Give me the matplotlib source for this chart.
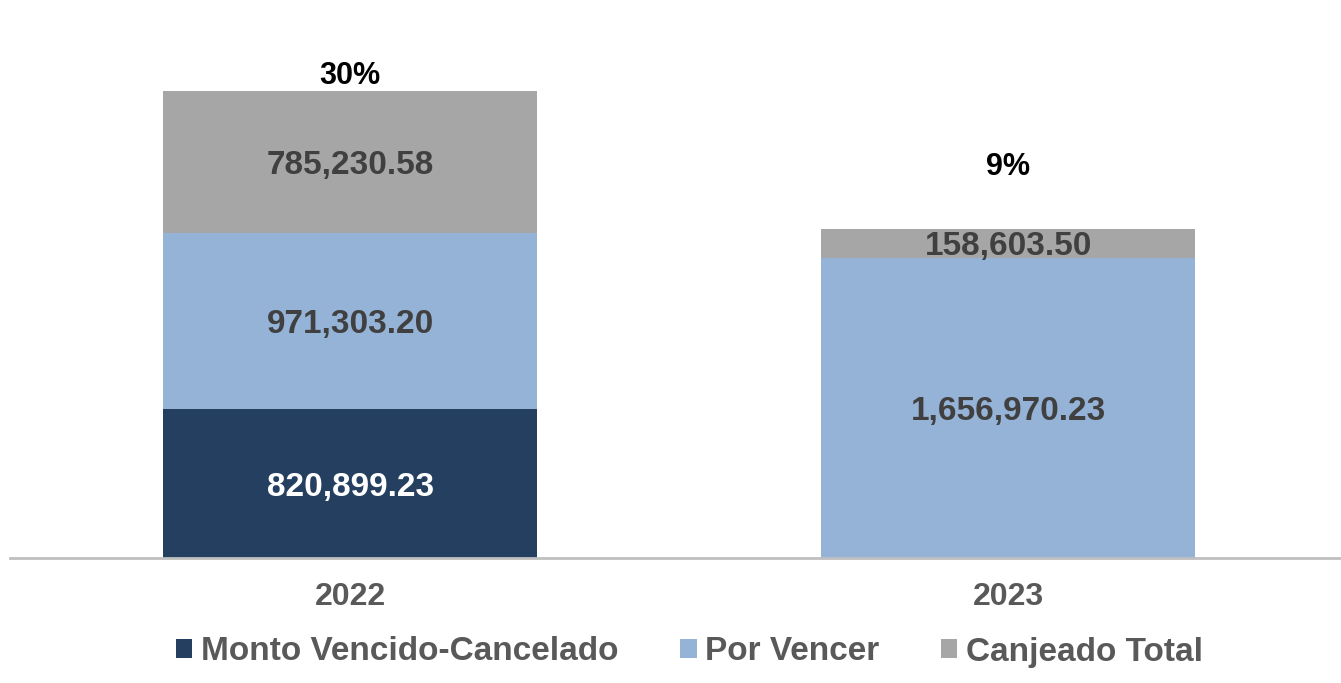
import matplotlib
matplotlib.use("Agg")
import matplotlib.pyplot as plt
from matplotlib.patches import Patch

plt.rcParams['font.family'] = ['Liberation Sans', 'DejaVu Sans']
plt.rcParams['font.weight'] = 'bold'

# data
years = ['2022', '2023']
vencido = [820899.23, 0]
por_vencer = [971303.20, 1656970.23]
canjeado = [785230.58, 158603.50]
series_names = ['Monto Vencido-Cancelado', 'Por Vencer', 'Canjeado Total']
pct_labels = ['30%', '9%']

colors = ['#243F60', '#95B3D7', '#A6A6A6']
label_colors = ['white', '#404040', '#404040']
fs = 24

fig = plt.figure(figsize=(13.41, 6.83), dpi=100)
ax = fig.add_axes([10 / 1341, (683 - 558) / 683, 1331 / 1341, 528 / 683])

x = [0, 1]
width = 0.568
bottom = [0, 0]
for vals, c, lc in zip([vencido, por_vencer, canjeado], colors, label_colors):
    ax.bar(x, vals, width, bottom=bottom, color=c, edgecolor='none', zorder=2)
    for i, v in enumerate(vals):
        if v > 0:
            ax.text(x[i], bottom[i] + v / 2, f"{v:,.2f}", ha='center', va='center_baseline',
                    fontsize=fs, color=lc, fontweight='bold', zorder=3)
    bottom = [b + v for b, v in zip(bottom, vals)]

# percentage labels above stacks
offsets = [15, 62]
for i, p in enumerate(pct_labels):
    ax.annotate(p, (x[i], bottom[i]), xytext=(0, offsets[i]), textcoords='offset pixels',
                ha='center', va='center', fontsize=22, color='black', fontweight='bold')

ax.set_xlim(-0.517, 1.506)
ax.set_ylim(0, 2914000)
ax.set_xticks(x)
ax.set_xticklabels(years, fontsize=23, color='#595959', fontweight='bold')
ax.tick_params(axis='x', length=0, pad=17)
ax.set_yticks([])
for s in ['top', 'right', 'left']:
    ax.spines[s].set_visible(False)
ax.spines['bottom'].set_color('#BFBFBF')
ax.spines['bottom'].set_linewidth(2)

handles = [Patch(facecolor=c, edgecolor='none') for c in colors]
fig.legend(handles, series_names, loc='center', bbox_to_anchor=(0.514, 1 - 652 / 683),
           ncol=3, frameon=False, fontsize=24, handlelength=0.5, handleheight=0.5,
           handletextpad=0.25, columnspacing=1.85, labelcolor='#595959')

fig.savefig('out.png', dpi=100, facecolor='white')
